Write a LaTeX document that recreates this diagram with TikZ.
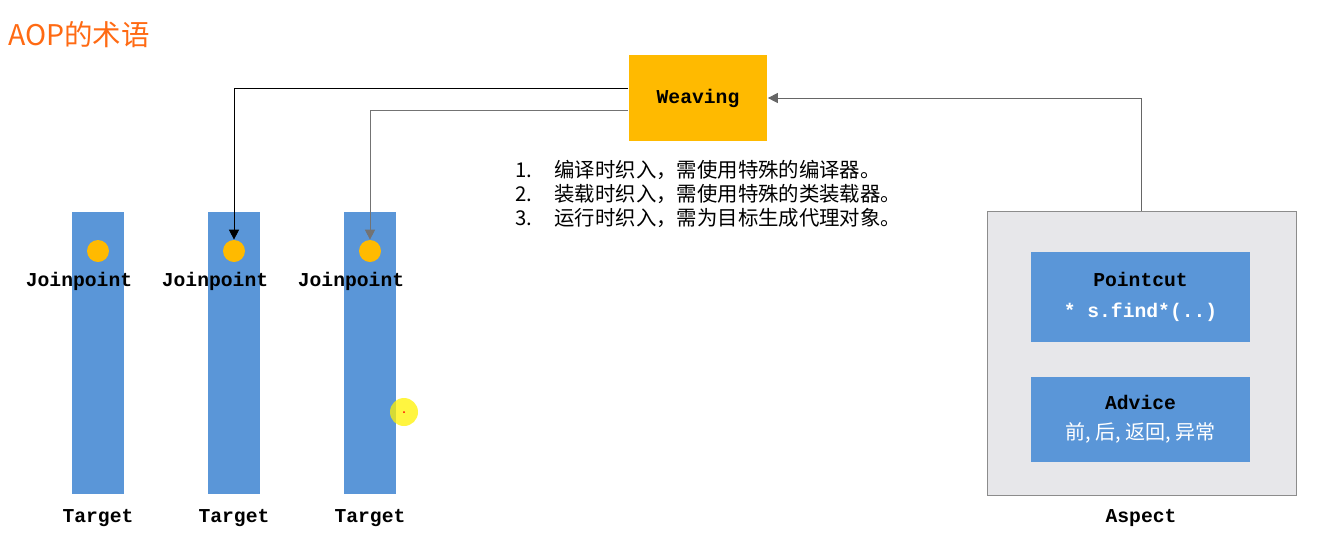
\documentclass[tikz,border=0pt]{standalone}
\usepackage{fontspec}
\setmainfont{Noto Sans CJK SC}
\setmonofont{Liberation Mono}
\newfontfamily\cjk{Noto Sans CJK SC}
\usepackage{xcolor}
\usetikzlibrary{arrows.meta,positioning,calc}
\definecolor{barblue}{HTML}{5A96D8}
\definecolor{gold}{HTML}{FFBA00}
\definecolor{aspgray}{HTML}{E7E7EA}
\definecolor{titleorange}{HTML}{FF6A13}
\tikzset{
  code/.style={font=\fontsize{11.2}{13}\selectfont\ttfamily\bfseries},
  bar/.style={fill=barblue, minimum width=1.04cm, minimum height=5.64cm, inner sep=0pt},
  dot/.style={circle, fill=gold, minimum size=0.44cm, inner sep=0pt},
  inbox/.style={fill=barblue, minimum width=4.38cm, align=center, inner sep=0pt},
  arr/.style={-{Triangle[length=2mm,width=2mm]}, line width=0.5pt},
  listtext/.style={font=\cjk\fontsize{11.6}{14}\selectfont, anchor=west}}

\begin{document}
\begin{tikzpicture}[x=0.02cm, y=-0.02cm]
  \useasboundingbox (0,0) rectangle (1319,549);
  \node[font=\cjk\fontsize{16.2}{19}\selectfont, text=titleorange, anchor=west, inner sep=0pt] (title) at (8,35) {AOP的术语};
  % targets with their joinpoints
  \foreach \i/\x in {1/98, 2/234, 3/370} {
    \node[bar] (bar\i) at (\x,353) {};
    \node[dot] (dot\i) at (\x,251) {};
    \node[code] (jp\i) at (\x-19,281) {Joinpoint};
    \node[code] (tg\i) at (\x,518) {Target};
  }
  % weaving
  \node[fill=gold, minimum width=2.78cm, minimum height=1.72cm, code] (weave) at (698,98) {Weaving};
  \node[listtext] (l1) at (509,170) {1.\hspace{1.1em}编译时织入，需使用特殊的编译器。};
  \node[listtext] (l2) at (509,194) {2.\hspace{1.1em}装载时织入，需使用特殊的类装载器。};
  \node[listtext] (l3) at (509,218) {3.\hspace{1.1em}运行时织入，需为目标生成代理对象。};
  % aspect
  \node[fill=aspgray, draw=black!45, minimum width=6.18cm, minimum height=5.68cm] (aspect) at (1141.5,353) {};
  \node[inbox, minimum height=1.8cm] (pcut) at (1140.5,297) {\textcolor{black}{\ttfamily\bfseries\fontsize{11.2}{13}\selectfont Pointcut}\\[6pt]\textcolor{white}{\ttfamily\bfseries\fontsize{11.2}{13}\selectfont * s.find*(..)}};
  \node[inbox, minimum height=1.7cm] (advice) at (1140.5,419.5) {\textcolor{black}{\ttfamily\bfseries\fontsize{11.2}{13}\selectfont Advice}\\[5pt]\textcolor{white}{\cjk\fontsize{11.4}{14}\selectfont 前, 后, 返回, 异常}};
  \node[code] (asplbl) at (1141,518) {Aspect};
  % connectors
  \draw[arr] ([yshift=0.2cm]weave.west) -| (dot2.north);
  \draw[arr, draw=black!55] ([yshift=-0.24cm]weave.west) -| (dot3.north);
  \draw[arr, draw=black!60] (aspect.north) |- (weave.east);
  % pointer highlight
  \fill[yellow, opacity=0.75] (404,412) circle (0.28cm);
  \fill[red] (404,412) circle (0.02cm);
\end{tikzpicture}
\end{document}
